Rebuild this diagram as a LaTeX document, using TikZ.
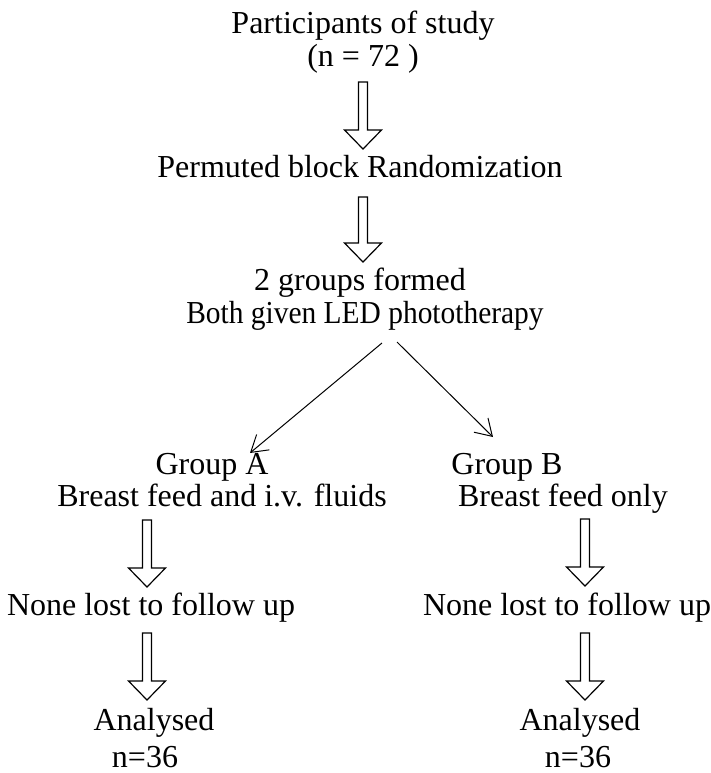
\documentclass[tikz,border=0pt]{standalone}
\usepackage{fontspec}
\setmainfont{Liberation Serif}
\usetikzlibrary{arrows.meta, calc}

\tikzset{
  flowtext/.style={anchor=base, inner sep=0pt, font=\fontsize{16}{16.5}\selectfont},
  hollow/.style={line width=0.6pt, line join=miter},
  splitline/.style={line width=0.5pt, -{Straight Barb[length=8pt,width=10pt]}}
}

\begin{document}
\begin{tikzpicture}[x=0.5pt, y=-0.5pt]
    \useasboundingbox (0,0) rectangle (711,773);

    % Top of the chart
    \node[flowtext] (part) at (363,33) {Participants of study};
    \node[flowtext] (total) at (363,66) {(n = 72 )};
    \node[flowtext] (rand) at (360,177) {Permuted block Randomization};
    \node[flowtext] (formed) at (360,290) {2 groups formed};
    \node[flowtext, xscale=0.92] (led) at (365,323) {Both given LED phototherapy};

    % Group A on the left
    \node[flowtext] (grpA) at (212,474) {Group A};
    \node[flowtext] (feedA) at (222,506) {Breast feed and i.v. fluids};
    \node[flowtext] (lostA) at (151,615) {None lost to follow up};
    \node[flowtext] (anaA) at (154,730) {Analysed};
    \node[flowtext] (numA) at (145,767) {n=36};

    % Group B on the right
    \node[flowtext] (grpB) at (507,474) {Group B};
    \node[flowtext] (feedB) at (563,506) {Breast feed only};
    \node[flowtext] (lostB) at (567,615) {None lost to follow up};
    \node[flowtext] (anaB) at (580,730) {Analysed};
    \node[flowtext] (numB) at (578,767) {n=36};

    % Hollow arrows: top of shaft and tip
    \coordinate (s1) at (363,82);  \coordinate (t1) at (363,149);
    \coordinate (s2) at (363,197); \coordinate (t2) at (363,262);
    \coordinate (s3) at (147,520); \coordinate (t3) at (147,587);
    \coordinate (s4) at (585,519); \coordinate (t4) at (585,586);
    \coordinate (s5) at (147,633); \coordinate (t5) at (147,700);
    \coordinate (s6) at (585,633); \coordinate (t6) at (585,700);
    \foreach \s/\t in {s1/t1, s2/t2, s3/t3, s4/t4, s5/t5, s6/t6}
        \draw[hollow] ($(\s)+(-4.5,0)$) -- ($(\s)+(4.5,0)$)
            -- ($(\t)+(4.5,-19)$) -- ($(\t)+(18.5,-19)$) -- (\t)
            -- ($(\t)+(-18.5,-19)$) -- ($(\t)+(-4.5,-19)$) -- cycle;

    % Split into the two groups
    \coordinate (forkA) at (382,343);
    \coordinate (forkB) at (397,342);
    \coordinate (endA) at (250,453);
    \coordinate (endB) at (493,437);
    \draw[splitline] (forkA) -- (endA);
    \draw[splitline] (forkB) -- (endB);

\end{tikzpicture}
\end{document}
